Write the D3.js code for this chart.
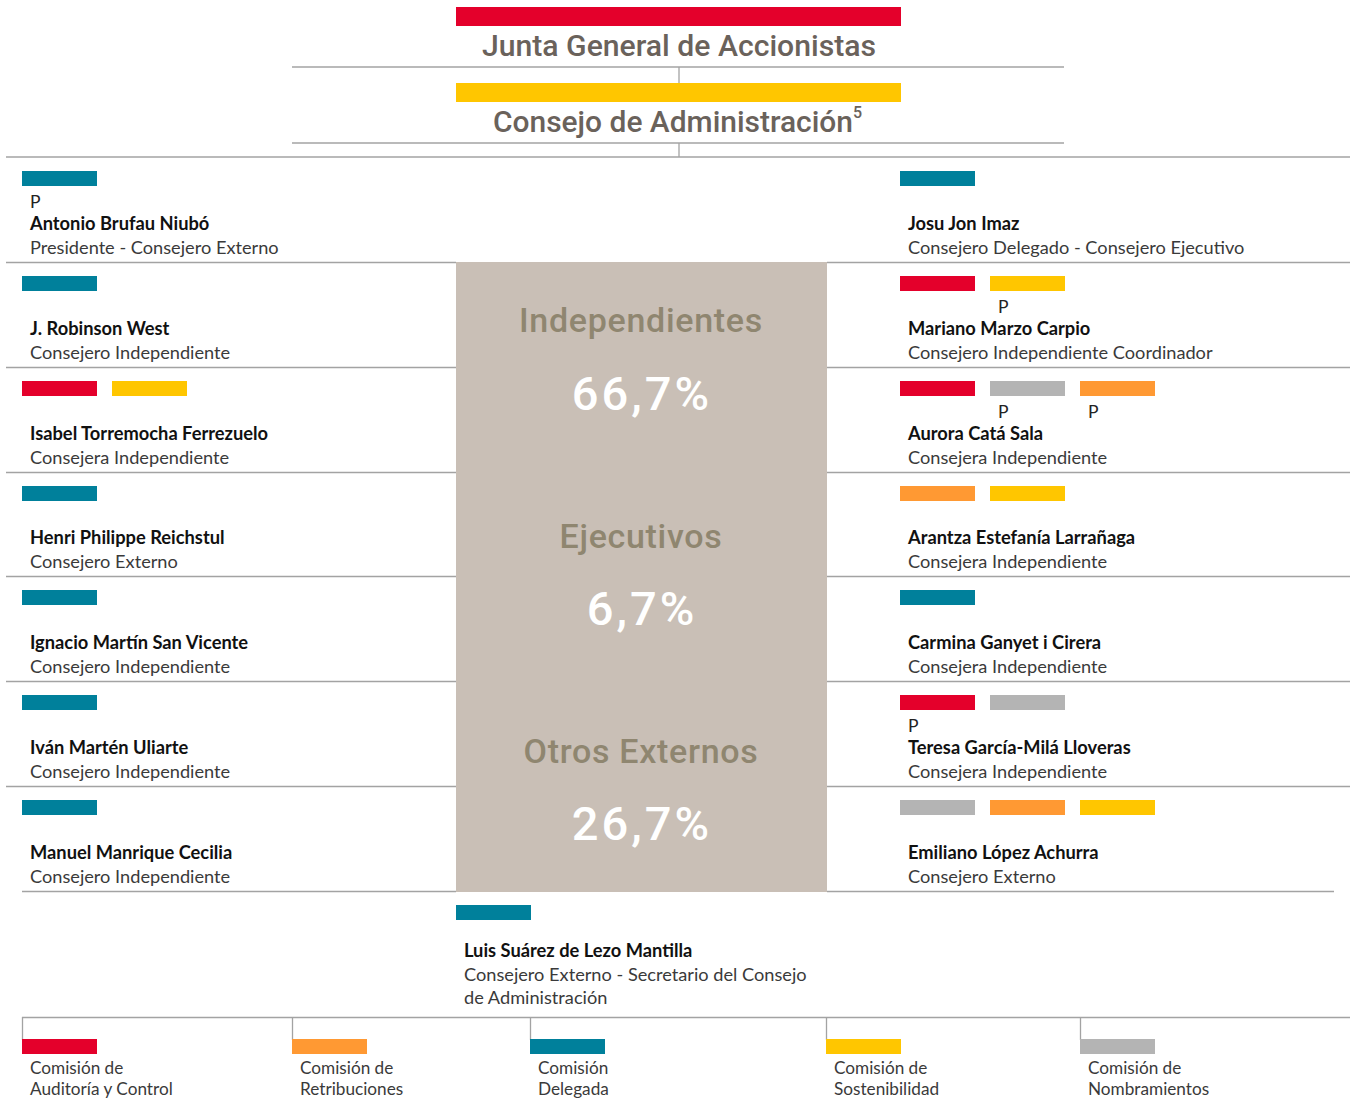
<!DOCTYPE html>
<html><head><meta charset="utf-8">
<script src="https://cdn.jsdelivr.net/npm/d3@7"></script>
<style>body{margin:0;background:#fff}svg{display:block}</style>
</head><body>
<svg id="chart" width="1356" height="1099"></svg>
<script>
// ---------------- DATA ----------------
const headerTitles = ["Junta General de Accionistas", "Consejo de Administración"];
const headerNote = "5";

const committeeKeys = ["A", "R", "D", "S", "N"];
const committeeLabels = [
  ["Comisión de", "Auditoría y Control"],
  ["Comisión de", "Retribuciones"],
  ["Comisión", "Delegada"],
  ["Comisión de", "Sostenibilidad"],
  ["Comisión de", "Nombramientos"]
];

const leftNames = ["Antonio Brufau Niubó", "J. Robinson West", "Isabel Torremocha Ferrezuelo",
  "Henri Philippe Reichstul", "Ignacio Martín San Vicente", "Iván Martén Uliarte", "Manuel Manrique Cecilia"];
const leftRoles = ["Presidente - Consejero Externo", "Consejero Independiente", "Consejera Independiente",
  "Consejero Externo", "Consejero Independiente", "Consejero Independiente", "Consejero Independiente"];
const leftCommittees = [["D"], ["D"], ["A", "S"], ["D"], ["D"], ["D"], ["D"]];
const leftChairs = [["D"], [], [], [], [], [], []];

const rightNames = ["Josu Jon Imaz", "Mariano Marzo Carpio", "Aurora Catá Sala",
  "Arantza Estefanía Larrañaga", "Carmina Ganyet i Cirera", "Teresa García-Milá Lloveras", "Emiliano López Achurra"];
const rightRoles = ["Consejero Delegado - Consejero Ejecutivo", "Consejero Independiente Coordinador",
  "Consejera Independiente", "Consejera Independiente", "Consejera Independiente",
  "Consejera Independiente", "Consejero Externo"];
const rightCommittees = [["D"], ["A", "S"], ["A", "N", "R"], ["R", "S"], ["D"], ["A", "N"], ["N", "R", "S"]];
const rightChairs = [[], ["S"], ["N", "R"], [], [], ["A"], []];

const secretaryName = "Luis Suárez de Lezo Mantilla";
const secretaryRole = ["Consejero Externo - Secretario del Consejo", "de Administración"];
const secretaryCommittees = ["D"];

const chairMark = "P";
const typeLabels = ["Independientes", "Ejecutivos", "Otros Externos"];
const typeShares = [66.7, 6.7, 26.7];

// ---------------- STYLE / LAYOUT ----------------
const svg = d3.select("#chart");
const lineColor = "#a3a3a3";
const bodyFont = "Lato, 'Open Sans', sans-serif";
const headFont = "Roboto, 'DejaVu Sans', sans-serif";

const color = d3.scaleOrdinal()
  .domain(committeeKeys)
  .range(["#e4002b", "#ff9933", "#00809b", "#ffc600", "#b4b4b4"]);

const es = d3.formatLocale({decimal: ",", thousands: ".", grouping: [3], currency: ["", " €"]});
const pct = v => es.format(".1f")(v) + "%";

const nRows = leftNames.length;
const rowY = d3.scaleLinear().domain([0, nRows]).range([157, 891]);
const slotX = d3.scaleLinear().domain([0, 1]).range([0, 90]);
const barW = 75, barH = 15;

const leftX = 22, rightX = 900;
const panelX0 = 456, panelX1 = 827;

// ---------------- HEADER ----------------
const hdr = svg.append("g");
hdr.append("rect").attr("x", 456).attr("y", 7).attr("width", 445).attr("height", 19).attr("fill", color("A"));
hdr.append("text").attr("x", 679).attr("y", 56).attr("text-anchor", "middle")
  .attr("font-family", headFont).attr("font-size", 29).attr("font-weight", 500)
  .attr("fill", "#6a625b").attr("textLength", 394).attr("lengthAdjust", "spacingAndGlyphs")
  .text(headerTitles[0]);
hdr.append("line").attr("x1", 292).attr("x2", 1064).attr("y1", 67).attr("y2", 67).attr("stroke", lineColor).attr("stroke-width", 1.3);
hdr.append("line").attr("x1", 679).attr("x2", 679).attr("y1", 67).attr("y2", 83).attr("stroke", lineColor).attr("stroke-width", 1.3);
hdr.append("rect").attr("x", 456).attr("y", 83).attr("width", 445).attr("height", 19).attr("fill", color("S"));
hdr.append("text").attr("x", 493).attr("y", 132)
  .attr("font-family", headFont).attr("font-size", 29).attr("font-weight", 500)
  .attr("fill", "#6a625b").attr("textLength", 360).attr("lengthAdjust", "spacingAndGlyphs")
  .text(headerTitles[1]);
hdr.append("text").attr("x", 853).attr("y", 118)
  .attr("font-family", headFont).attr("font-size", 16).attr("font-weight", 500)
  .attr("fill", "#6a625b").text(headerNote);
hdr.append("line").attr("x1", 292).attr("x2", 1064).attr("y1", 143).attr("y2", 143).attr("stroke", lineColor).attr("stroke-width", 1.3);
hdr.append("line").attr("x1", 679).attr("x2", 679).attr("y1", 143).attr("y2", 157).attr("stroke", lineColor).attr("stroke-width", 1.3);
hdr.append("line").attr("x1", 6).attr("x2", 1350).attr("y1", 157).attr("y2", 157).attr("stroke", lineColor).attr("stroke-width", 1.3);

// ---------------- ROW LINES ----------------
const lines = svg.append("g");
d3.range(1, nRows + 1).forEach(i => {
  const y = Math.round(rowY(i)) + 0.5;
  const last = i === nRows;
  lines.append("line").attr("x1", last ? 22 : 6).attr("x2", panelX0).attr("y1", y).attr("y2", y)
    .attr("stroke", lineColor).attr("stroke-width", 1.3);
  lines.append("line").attr("x1", panelX1).attr("x2", last ? 1334 : 1350).attr("y1", y).attr("y2", y)
    .attr("stroke", lineColor).attr("stroke-width", 1.3);
});

// ---------------- PANEL ----------------
svg.append("rect").attr("x", panelX0).attr("y", Math.round(rowY(1))).attr("width", panelX1 - panelX0)
  .attr("height", 891 - Math.round(rowY(1)) + 1).attr("fill", "#c9bfb6");
const labY = d3.scaleLinear().domain([0, 2]).range([332, 763]);
const valY = d3.scaleLinear().domain([0, 2]).range([410, 840]);
const panel = svg.append("g");
typeLabels.forEach((t, i) => {
  panel.append("text").attr("x", 641).attr("y", labY(i)).attr("text-anchor", "middle")
    .attr("font-family", headFont).attr("font-size", 34).attr("font-weight", 500)
    .attr("letter-spacing", 0.7)
    .attr("fill", "#8f8670").text(t);
  panel.append("text").attr("x", 642).attr("y", valY(i)).attr("text-anchor", "middle")
    .attr("font-family", headFont).attr("font-size", 47).attr("font-weight", 500)
    .attr("letter-spacing", 3)
    .attr("fill", "#ffffff").text(pct(typeShares[i]));
});

// ---------------- MEMBERS ----------------
function member(g, x0, top, bottom, name, roles, comms, chairs) {
  comms.forEach((c, j) => {
    g.append("rect").attr("x", x0 + slotX(j)).attr("y", top + 14).attr("width", barW).attr("height", barH)
      .attr("fill", color(c));
    if (chairs.includes(c)) {
      g.append("text").attr("x", x0 + slotX(j) + 8).attr("y", bottom - 54)
        .attr("font-family", bodyFont).attr("font-size", 17.5).attr("font-weight", 400)
        .attr("fill", "#222").text(chairMark);
    }
  });
  g.append("text").attr("x", x0 + 8).attr("y", bottom - 32)
    .attr("font-family", bodyFont).attr("font-size", 18.3).attr("font-weight", 700)
    .attr("fill", "#111").text(name);
  roles.forEach((r, k) => {
    g.append("text").attr("x", x0 + 8).attr("y", bottom - 8 + k * 23)
      .attr("font-family", bodyFont).attr("font-size", 18.2).attr("font-weight", 400)
      .attr("fill", "#3a3a3a").text(r);
  });
}
const mem = svg.append("g");
leftNames.forEach((n, i) => member(mem, leftX, Math.round(rowY(i)), Math.round(rowY(i + 1)), n, [leftRoles[i]], leftCommittees[i], leftChairs[i]));
rightNames.forEach((n, i) => member(mem, rightX, Math.round(rowY(i)), Math.round(rowY(i + 1)), n, [rightRoles[i]], rightCommittees[i], rightChairs[i]));
member(mem, panelX0, 891, 989, secretaryName, secretaryRole, secretaryCommittees, []);

// ---------------- LEGEND ----------------
const legendX = [22, 292, 530, 826, 1080];
const leg = svg.append("g");
leg.append("line").attr("x1", 22).attr("x2", 1350).attr("y1", 1017.5).attr("y2", 1017.5).attr("stroke", lineColor).attr("stroke-width", 1.3);
committeeKeys.forEach((k, i) => {
  const x = legendX[i];
  leg.append("line").attr("x1", x + 0.5).attr("x2", x + 0.5).attr("y1", 1017).attr("y2", 1040).attr("stroke", lineColor).attr("stroke-width", 1.3);
  leg.append("rect").attr("x", x).attr("y", 1039).attr("width", barW).attr("height", barH).attr("fill", color(k));
  committeeLabels[i].forEach((t, j) => {
    leg.append("text").attr("x", x + 8).attr("y", 1074 + j * 21)
      .attr("font-family", bodyFont).attr("font-size", 17.2).attr("font-weight", 400)
      .attr("fill", "#3a3a3a").text(t);
  });
});
</script>
</body></html>
